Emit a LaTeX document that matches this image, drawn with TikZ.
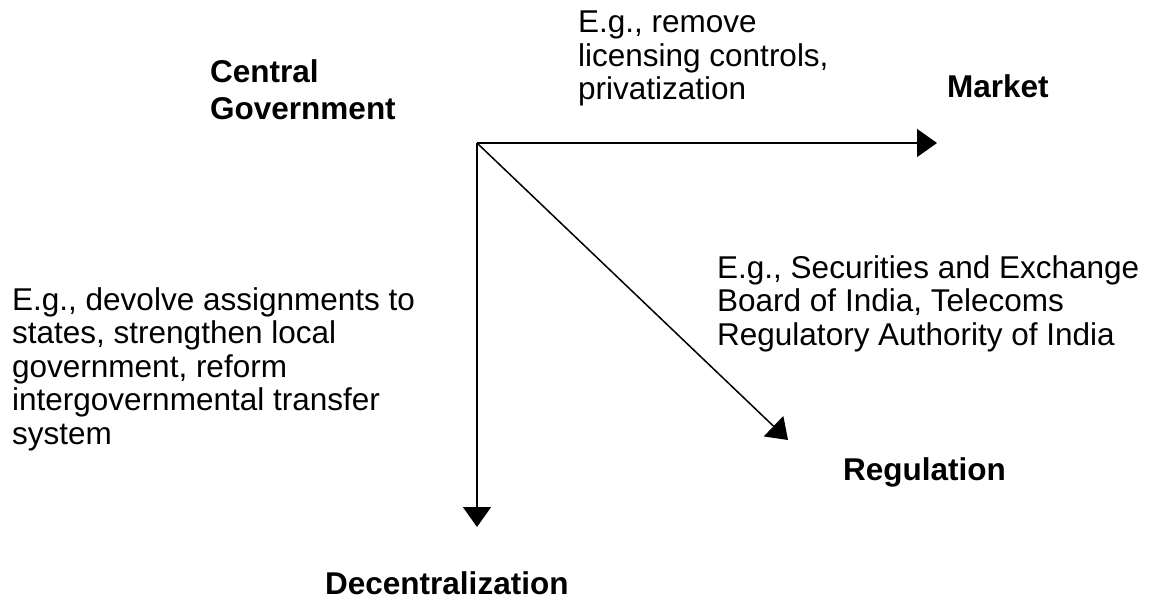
\documentclass[tikz,border=0pt]{standalone}
\usepackage{fontspec}
\setmainfont{Liberation Sans}
\usetikzlibrary{arrows.meta}
\usetikzlibrary{positioning}

\begin{document}
\begin{tikzpicture}[x=1pt,y=-1pt]
\tikzstyle{heading}=[anchor=north west,inner sep=0pt,align=left,
font=\fontsize{31.5}{37}\selectfont\bfseries]
\tikzstyle{example}=[anchor=north west,inner sep=0pt,align=left,
font=\fontsize{31.5}{33.5}\selectfont]
\tikzstyle{move}=[-{Triangle[length=20pt,width=28pt]},line width=1.5pt]
\useasboundingbox (0,0) rectangle (1149,595);
% the three ways out of central government
\coordinate (centre) at (477,143);
\coordinate (to market) at (937,143);
\coordinate (to decentral) at (477,527);
\coordinate (to regulation) at (788,440);
\node[heading] (central) at (210,59) {Central\\Government};
\node[heading] (market) at (947,74) {Market};
\node[heading] (regulation) at (843,457) {Regulation};
\node[heading] (decentral) at (325,571) {Decentralization};
\node[example] (market eg) at (578,11) {E.g., remove\\licensing controls,\\privatization};
\node[example] (regulation eg) at (717,255) {E.g., Securities and Exchange\\Board of India, Telecoms\\Regulatory Authority of India};
\node[example] (decentral eg) at (12,287) {E.g., devolve assignments to\\states, strengthen local\\government, reform\\intergovernmental transfer\\system};
\draw[move] (centre) -- (to market);
\draw[move] (centre) -- (to decentral);
\draw[move] (centre) -- (to regulation);
\end{tikzpicture}
\end{document}
